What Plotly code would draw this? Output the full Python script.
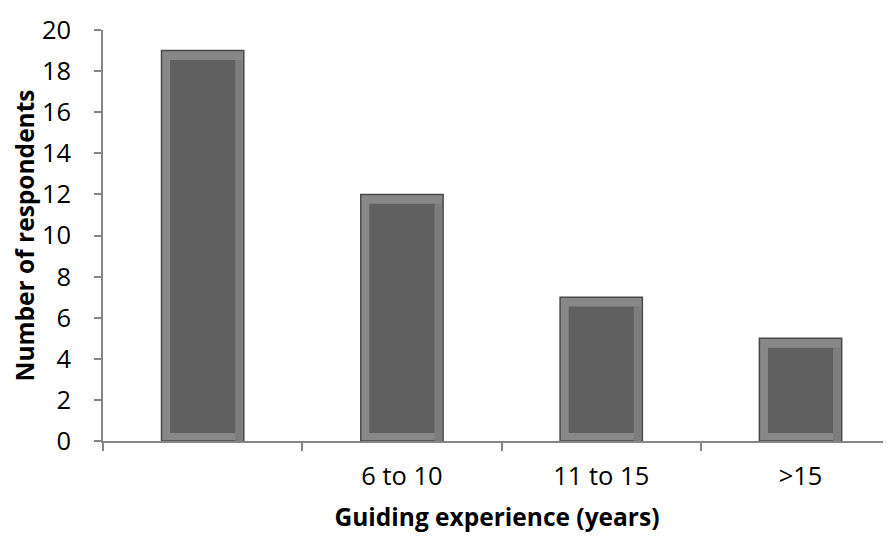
import plotly.graph_objects as go

# Data
categories = [" ", "6 to 10", "11 to 15", ">15"]
respondents = [19, 12, 7, 5]
y_ticks = [0, 2, 4, 6, 8, 10, 12, 14, 16, 18, 20]

FONT = "Open Sans"
outer_w = 0.413
inner_w = 0.327
inset_top = 0.46
inset_bot = 0.39

fig = go.Figure()
# outer bevel bar
fig.add_trace(go.Bar(
    x=categories, y=respondents, width=outer_w,
    marker=dict(color="#888888", line=dict(color="#4a4a4a", width=1.5)),
    hoverinfo="skip", showlegend=False,
))
# slightly darker right-hand bevel
fig.add_trace(go.Bar(
    x=categories,
    y=[v - inset_top for v in respondents],
    base=[0] * len(respondents),
    width=(outer_w - inner_w) / 2 - 0.006,
    offset=inner_w / 2,
    marker=dict(color="#7d7d7d", line=dict(width=0)),
    hoverinfo="skip", showlegend=False,
))
# inner face of bar
fig.add_trace(go.Bar(
    x=categories,
    y=[v - inset_top - inset_bot for v in respondents],
    base=[inset_bot] * len(respondents),
    width=inner_w,
    marker=dict(color="#606060", line=dict(width=0)),
    hoverinfo="skip", showlegend=False,
))

# page body adds an 8px offset, so the figure is 8px smaller than the window
fig.update_layout(
    width=883, height=528,
    margin=dict(l=95, r=0, t=22, b=95),
    barmode="overlay",
    plot_bgcolor="white", paper_bgcolor="white",
    font=dict(family=FONT, color="black", size=25),
    showlegend=False,
)
fig.update_xaxes(
    type="category",
    range=[-0.5, 3.454],
    tickson="boundaries",
    ticks="outside", ticklen=8, tickcolor="#868686", tickwidth=1.5,
    showline=True, linecolor="#868686", linewidth=1.5,
    showgrid=False, zeroline=False,
    tickfont=dict(family=FONT, size=25.5, color="black"),
    ticklabelstandoff=12,
    automargin=False,
    title=dict(text="<b>Guiding experience (years)</b>",
               font=dict(family=FONT, size=24.5, color="black"), standoff=18),
)
fig.update_yaxes(
    range=[0, 20],
    tickvals=y_ticks,
    ticks="outside", ticklen=7, tickcolor="#868686", tickwidth=1.5,
    showline=True, linecolor="#868686", linewidth=1.5,
    showgrid=False, zeroline=False,
    tickfont=dict(family=FONT, size=25.5, color="black"),
    ticklabelstandoff=18,
    automargin=False,
    title=dict(text="<b>Number of respondents</b>",
               font=dict(family=FONT, size=24.5, color="black"), standoff=12),
)

fig.write_html("out.html")
